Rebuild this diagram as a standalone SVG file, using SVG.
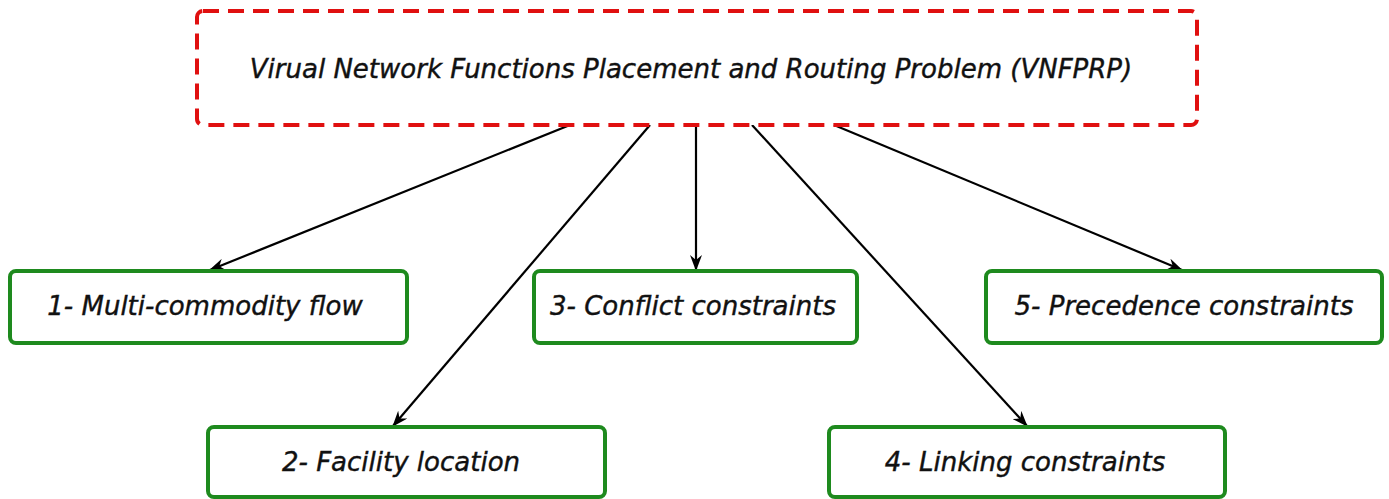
<svg xmlns="http://www.w3.org/2000/svg" width="1389" height="499" viewBox="0 0 1389 499">
  <defs>
    <style>
      .root { fill: #ffffff; stroke: #e01010; stroke-width: 4; stroke-dasharray: 16 9; }
      .leaf { fill: #ffffff; stroke: #1e8a1e; stroke-width: 4; }
      .label { font-family: "DejaVu Sans", Verdana, sans-serif; font-style: oblique; font-size: 26px; fill: #111111; stroke: #111111; stroke-width: 0.4; text-anchor: middle; }
      .edge { stroke: #000000; stroke-width: 2.2; fill: none; marker-end: url(#arrow); }
    </style>
    <marker id="arrow" viewBox="0 0 16 12" refX="15" refY="6" markerWidth="16" markerHeight="12" markerUnits="userSpaceOnUse" orient="auto">
      <path d="M0,0 L16,6 L0,12 L5,6 Z" fill="#000000"/>
    </marker>
  </defs>
  <rect width="1389" height="499" fill="#ffffff"/>

  <g id="connectors">
    <line class="edge" x1="570" y1="125" x2="210" y2="270"/>
    <line class="edge" x1="650" y1="125" x2="393" y2="426"/>
    <line class="edge" x1="696" y1="125" x2="696" y2="270"/>
    <line class="edge" x1="752" y1="125" x2="1027" y2="426"/>
    <line class="edge" x1="834" y1="125" x2="1182" y2="270"/>
  </g>

  <g id="vnfprp">
    <rect class="root" x="197" y="11" width="1000" height="114" rx="6"/>
    <text class="label" x="691" y="78">Virual Network Functions Placement and Routing Problem (VNFPRP)</text>
  </g>

  <g id="multi-commodity">
    <rect class="leaf" x="10" y="271" width="397" height="72" rx="6"/>
    <text class="label" x="205" y="315">1- Multi-commodity flow</text>
  </g>

  <g id="facility-location">
    <rect class="leaf" x="208" y="427" width="397" height="70" rx="6"/>
    <text class="label" x="401" y="471">2- Facility location</text>
  </g>

  <g id="conflict">
    <rect class="leaf" x="534" y="271" width="323" height="72" rx="6"/>
    <text class="label" x="693" y="315">3- Conflict constraints</text>
  </g>

  <g id="linking">
    <rect class="leaf" x="829" y="427" width="396" height="70" rx="6"/>
    <text class="label" x="1025" y="471">4- Linking constraints</text>
  </g>

  <g id="precedence">
    <rect class="leaf" x="986" y="271" width="396" height="72" rx="6"/>
    <text class="label" x="1184" y="315">5- Precedence constraints</text>
  </g>
</svg>
